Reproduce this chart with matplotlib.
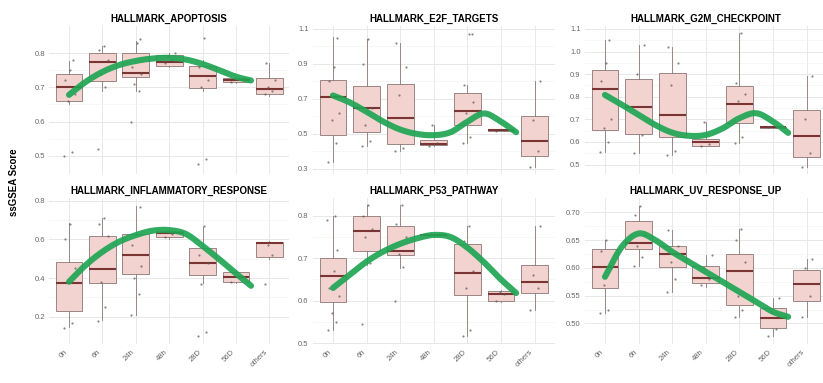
import numpy as np
import matplotlib
matplotlib.use("Agg")
import matplotlib.pyplot as plt

plt.rcParams['font.family'] = ['Liberation Sans', 'DejaVu Sans']

# time points on the x axis
categories = ["0h", "6h", "24h", "48h", "28D", "56D", "others"]

titles = ["HALLMARK_APOPTOSIS", "HALLMARK_E2F_TARGETS", "HALLMARK_G2M_CHECKPOINT",
          "HALLMARK_INFLAMMATORY_RESPONSE", "HALLMARK_P53_PATHWAY", "HALLMARK_UV_RESPONSE_UP"]

# box stats per category: [whisker low, q1, median, q3, whisker high]
apoptosis_box = [[0.650, 0.661, 0.700, 0.739, 0.778], [0.690, 0.718, 0.775, 0.800, 0.820],
                 [0.690, 0.730, 0.742, 0.800, 0.835], [0.760, 0.763, 0.775, 0.795, 0.800],
                 [0.690, 0.697, 0.733, 0.763, 0.780], [0.712, 0.715, 0.720, 0.728, 0.730],
                 [0.675, 0.680, 0.695, 0.727, 0.770]]
e2f_box = [[0.340, 0.495, 0.710, 0.810, 1.055], [0.430, 0.510, 0.650, 0.775, 1.040],
           [0.400, 0.440, 0.590, 0.785, 1.020], [0.430, 0.435, 0.440, 0.465, 0.550],
           [0.450, 0.550, 0.630, 0.735, 0.780], [0.515, 0.517, 0.520, 0.523, 0.525],
           [0.310, 0.375, 0.460, 0.600, 0.800]]
g2m_box = [[0.555, 0.653, 0.835, 0.918, 1.050], [0.550, 0.635, 0.755, 0.880, 1.030],
           [0.540, 0.620, 0.720, 0.905, 1.020], [0.580, 0.583, 0.600, 0.613, 0.690],
           [0.595, 0.685, 0.770, 0.848, 1.080], [0.662, 0.663, 0.665, 0.667, 0.668],
           [0.490, 0.535, 0.625, 0.740, 0.890]]
inflam_box = [[0.148, 0.229, 0.376, 0.484, 0.683], [0.183, 0.376, 0.445, 0.617, 0.710],
              [0.209, 0.419, 0.519, 0.626, 0.772], [0.600, 0.610, 0.634, 0.645, 0.650],
              [0.372, 0.416, 0.479, 0.553, 0.666], [0.375, 0.381, 0.407, 0.433, 0.440],
              [0.500, 0.510, 0.580, 0.588, 0.590]]
p53_box = [[0.531, 0.596, 0.659, 0.700, 0.800], [0.685, 0.718, 0.765, 0.800, 0.826],
           [0.677, 0.708, 0.718, 0.776, 0.826], [0.753, 0.754, 0.755, 0.756, 0.757],
           [0.516, 0.614, 0.666, 0.733, 0.775], [0.598, 0.600, 0.615, 0.622, 0.625],
           [0.578, 0.619, 0.645, 0.685, 0.775]]
uv_box = [[0.518, 0.563, 0.601, 0.635, 0.651], [0.603, 0.635, 0.645, 0.685, 0.711],
          [0.557, 0.602, 0.625, 0.639, 0.668], [0.565, 0.572, 0.581, 0.603, 0.623],
          [0.512, 0.533, 0.595, 0.625, 0.671], [0.477, 0.491, 0.510, 0.528, 0.545],
          [0.512, 0.541, 0.571, 0.596, 0.617]]

# sample points (jittered dots)
apoptosis_pts = [[0.50, 0.51, 0.66, 0.68, 0.72, 0.75, 0.78], [0.52, 0.70, 0.74, 0.78, 0.81, 0.82],
                 [0.60, 0.69, 0.71, 0.74, 0.76, 0.83, 0.84], [0.77, 0.78, 0.79, 0.80],
                 [0.475, 0.49, 0.70, 0.72, 0.76, 0.844], [0.715, 0.725], [0.68, 0.69, 0.70, 0.72, 0.77]]
e2f_pts = [[0.34, 0.45, 0.58, 0.62, 0.80, 0.88, 1.05], [0.43, 0.46, 0.55, 0.65, 0.90, 1.04],
           [0.40, 0.42, 0.72, 0.88, 1.02], [0.43, 0.45, 0.55],
           [0.45, 0.48, 0.62, 0.68, 0.78, 1.07, 1.07], [0.515, 0.525], [0.31, 0.40, 0.58, 0.80]]
g2m_pts = [[0.555, 0.60, 0.66, 0.70, 0.87, 0.95, 1.05], [0.55, 0.63, 0.90, 1.03],
           [0.54, 0.56, 0.85, 0.95, 1.02], [0.58, 0.59, 0.69],
           [0.595, 0.62, 0.78, 0.81, 0.86, 1.08], [0.665, 0.665], [0.49, 0.55, 0.70, 0.89]]
inflam_pts = [[0.14, 0.17, 0.38, 0.45, 0.60, 0.68], [0.18, 0.25, 0.38, 0.62, 0.68, 0.71],
              [0.21, 0.32, 0.40, 0.46, 0.57, 0.63, 0.77], [0.61, 0.63, 0.645],
              [0.10, 0.12, 0.37, 0.48, 0.52, 0.67], [0.38, 0.41, 0.43], [0.37, 0.52, 0.57]]
p53_pts = [[0.53, 0.55, 0.57, 0.61, 0.63, 0.67, 0.72, 0.79, 0.80], [0.545, 0.69, 0.75, 0.77, 0.80, 0.826],
           [0.60, 0.68, 0.71, 0.75, 0.78, 0.826], [0.755, 0.755],
           [0.516, 0.53, 0.63, 0.67, 0.74, 0.775], [0.60, 0.615, 0.62], [0.578, 0.63, 0.66, 0.775]]
uv_pts = [[0.518, 0.525, 0.57, 0.60, 0.63, 0.651], [0.603, 0.62, 0.64, 0.66, 0.695, 0.711],
          [0.557, 0.58, 0.61, 0.64, 0.668], [0.57, 0.58, 0.60, 0.623],
          [0.512, 0.525, 0.55, 0.61, 0.65, 0.671], [0.477, 0.49, 0.52, 0.545], [0.512, 0.55, 0.60, 0.617]]

# smooth trend line
fit_x = [0, 0.5, 1, 1.5, 2, 2.5, 3, 3.5, 4, 4.5, 5, 5.45]
apoptosis_fit = [0.678, 0.716, 0.745, 0.765, 0.777, 0.784, 0.786, 0.781, 0.768, 0.750, 0.731, 0.720]
e2f_fit = [0.720, 0.680, 0.627, 0.570, 0.525, 0.500, 0.493, 0.510, 0.570, 0.617, 0.570, 0.510]
g2m_fit = [0.808, 0.765, 0.720, 0.675, 0.641, 0.627, 0.631, 0.660, 0.705, 0.727, 0.690, 0.640]
inflam_fit = [0.381, 0.467, 0.536, 0.588, 0.622, 0.645, 0.648, 0.628, 0.566, 0.497, 0.424, 0.360]
p53_fit = [0.630, 0.661, 0.692, 0.716, 0.734, 0.747, 0.755, 0.750, 0.725, 0.690, 0.650, 0.618]
uv_fit = [0.584, 0.638, 0.662, 0.650, 0.629, 0.611, 0.593, 0.575, 0.557, 0.539, 0.521, 0.512]

boxes = [apoptosis_box, e2f_box, g2m_box, inflam_box, p53_box, uv_box]
points = [apoptosis_pts, e2f_pts, g2m_pts, inflam_pts, p53_pts, uv_pts]
fits = [apoptosis_fit, e2f_fit, g2m_fit, inflam_fit, p53_fit, uv_fit]

yticks = [[0.5, 0.6, 0.7, 0.8], [0.3, 0.5, 0.7, 0.9, 1.1], [0.5, 0.6, 0.7, 0.8, 0.9, 1.0, 1.1],
          [0.2, 0.4, 0.6, 0.8], [0.5, 0.6, 0.7, 0.8], [0.50, 0.55, 0.60, 0.65, 0.70]]
ylims = [(0.447, 0.879), (0.271, 1.117), (0.458, 1.113), (0.059, 0.814), (0.498, 0.842), (0.463, 0.726)]
yfmt = ["%.1f", "%.1f", "%.1f", "%.1f", "%.1f", "%.2f"]


def catmull(xs, ys, n=20):
    xs = np.asarray(xs, float)
    ys = np.asarray(ys, float)
    px = np.concatenate([[2 * xs[0] - xs[1]], xs, [2 * xs[-1] - xs[-2]]])
    py = np.concatenate([[2 * ys[0] - ys[1]], ys, [2 * ys[-1] - ys[-2]]])
    t = np.linspace(0, 1, n, endpoint=False)
    ox, oy = [], []
    for i in range(1, len(px) - 2):
        for p, o in ((px, ox), (py, oy)):
            p0, p1, p2, p3 = p[i - 1], p[i], p[i + 1], p[i + 2]
            o.extend(0.5 * (2 * p1 + (-p0 + p2) * t + (2 * p0 - 5 * p1 + 4 * p2 - p3) * t ** 2
                            + (-p0 + 3 * p1 - 3 * p2 + p3) * t ** 3))
    ox.append(xs[-1])
    oy.append(ys[-1])
    return np.array(ox), np.array(oy)


W, H = 823, 383
fig = plt.figure(figsize=(W / 100, H / 100), dpi=100)

col_px = [(49, 289.4), (312.8, 554.8), (584.8, 826.8)]
row_px = [(26, 174), (198, 344)]
jit = [-0.14, 0.09, -0.04, 0.17, -0.11, 0.04, 0.13, -0.19, 0.07]

for k in range(6):
    r, c = divmod(k, 3)
    L, R = col_px[c]
    T, B = row_px[r]
    ax = fig.add_axes([L / W, 1 - B / H, (R - L) / W, (B - T) / H])

    stats = [dict(whislo=b[0], q1=b[1], med=b[2], q3=b[3], whishi=b[4], fliers=[]) for b in boxes[k]]
    ax.bxp(stats, positions=range(len(categories)), widths=0.8, patch_artist=True,
           boxprops=dict(facecolor="#f3d3cf", edgecolor="#9a8583", linewidth=0.7),
           medianprops=dict(color="#7a3434", linewidth=1.5),
           whiskerprops=dict(color="#8a7775", linewidth=0.6),
           capprops=dict(linewidth=0), zorder=2)

    for i, vals in enumerate(points[k]):
        xs = [i + jit[j % len(jit)] for j in range(len(vals))]
        ax.scatter(xs, vals, s=2.5, color="#555555", alpha=0.7, linewidths=0, zorder=3)

    sx, sy = catmull(fit_x, fits[k])
    ax.plot(sx, sy, color="#1fa553", lw=4.4, alpha=0.92, solid_capstyle="round", zorder=4)

    ax.set_xlim(-0.6, 6.6)
    ax.set_ylim(*ylims[k])
    ax.set_xticks(range(len(categories)))
    yt = yticks[k]
    ax.set_yticks(yt)
    ax.set_yticklabels([yfmt[k] % v for v in yt])
    ax.set_yticks([(a + b) / 2 for a, b in zip(yt[:-1], yt[1:])], minor=True)
    ax.grid(True, which="major", color="#e8e8e8", linewidth=0.7, zorder=0)
    ax.grid(True, which="minor", axis="y", color="#f2f2f2", linewidth=0.4, zorder=0)
    ax.set_axisbelow(True)
    for s in ax.spines.values():
        s.set_visible(False)
    ax.tick_params(length=0, labelsize=5.5, colors="#666666", pad=3)
    ax.tick_params(axis="y", which="minor", length=0)
    if r == 1:
        ax.set_xticklabels(categories, rotation=45, ha="right")
    else:
        ax.set_xticklabels([])
    ax.set_title(titles[k], fontsize=7, fontweight="bold", pad=3)

fig.text(14 / W, 1 - 182 / H, "ssGSEA Score", rotation=90, fontsize=7, fontweight="bold",
         ha="center", va="center")

fig.savefig("out.png", dpi=100)
